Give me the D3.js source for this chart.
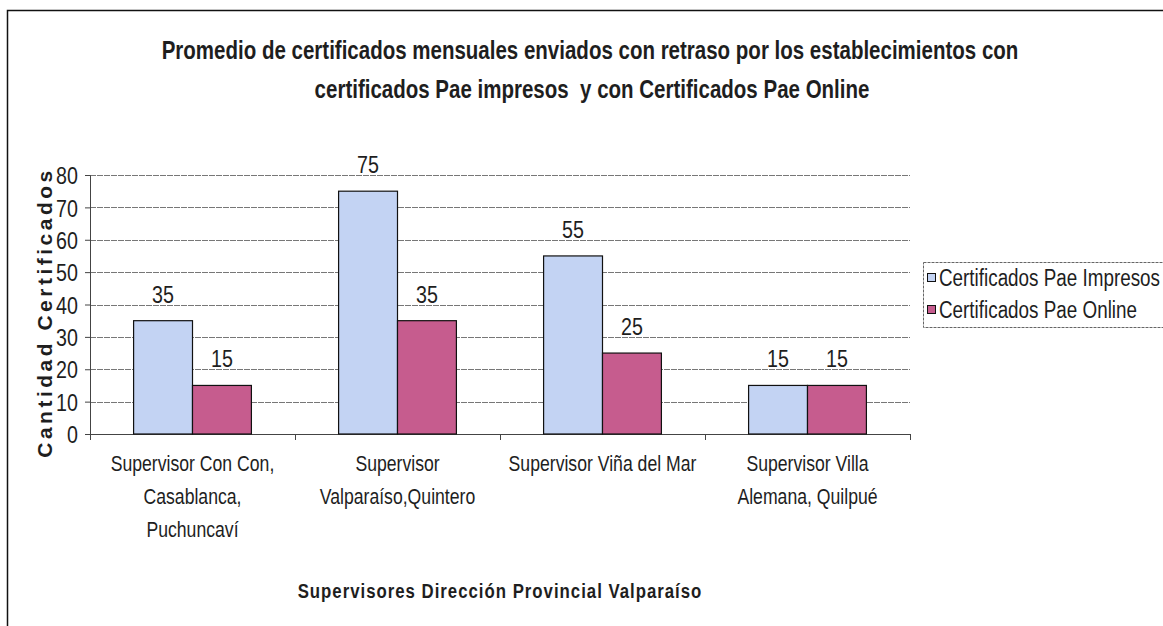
<!DOCTYPE html>
<html>
<head>
<meta charset="utf-8">
<script src="https://cdn.jsdelivr.net/npm/d3@7"></script>
<style>
  body { margin: 0; background: #fff; }
  svg { display: block; font-family: "Liberation Sans", Arial, sans-serif; }
</style>
</head>
<body>
<div id="chart"></div>
<script>
// data
const categories = [
  ["Supervisor Con Con,", "Casablanca,", "Puchuncaví"],
  ["Supervisor", "Valparaíso,Quintero"],
  ["Supervisor Viña del Mar"],
  ["Supervisor Villa", "Alemana, Quilpué"]
];
const seriesNames = ["Certificados Pae Impresos", "Certificados Pae Online"];
const impresos = [35, 75, 55, 15];
const online = [15, 35, 25, 15];
const yTicks = [0, 10, 20, 30, 40, 50, 60, 70, 80];
const colors = ["#c3d3f3", "#c65c8e"];

const width = 1163;
const height = 626;
const plot = { left: 90, right: 910, top: 175, bottom: 434 };
const narrow = 0.82; // squeeze to look like Arial Narrow

const svg = d3.select('#chart')
  .append('svg')
  .attr('width', width)
  .attr('height', height);

// narrow text placed at (x, y)
function addText(parent, x, y, txt, size, anchor, bold) {
  return parent.append('text')
    .attr('transform', `translate(${x},${y}) scale(${narrow},1)`)
    .attr('text-anchor', anchor || 'start')
    .attr('font-size', size + 'px')
    .attr('font-weight', bold ? 'bold' : 'normal')
    .attr('fill', '#1e1e1e')
    .text(txt);
}

// outer frame (runs off the right and bottom edges)
svg.append('rect')
  .attr('x', 7.5)
  .attr('y', 10.5)
  .attr('width', width)
  .attr('height', height)
  .attr('fill', 'none')
  .attr('stroke', '#111')
  .attr('stroke-width', 1.5);

// title
addText(svg, 590, 59, 'Promedio de certificados mensuales enviados con retraso por los establecimientos con', 25, 'middle', true);
addText(svg, 592, 98, 'certificados Pae impresos  y con Certificados Pae Online', 25, 'middle', true)
  .attr('xml:space', 'preserve')
  .style('white-space', 'pre');

const keys = categories.map((d, i) => i);

const x = d3.scaleBand()
  .domain(keys)
  .range([plot.left, plot.right]);

const xSub = d3.scaleBand()
  .domain([0, 1])
  .range([0, x.bandwidth()])
  .paddingOuter(0.74);

const y = d3.scaleLinear()
  .domain([0, 80])
  .range([plot.bottom, plot.top]);

// gridlines
svg.append('g')
  .selectAll('line')
  .data(yTicks.filter(d => d > 0))
  .join('line')
    .attr('x1', plot.left)
    .attr('x2', plot.right)
    .attr('y1', d => Math.round(y(d)) + 0.5)
    .attr('y2', d => Math.round(y(d)) + 0.5)
    .attr('stroke', '#777')
    .attr('stroke-width', 1)
    .attr('stroke-dasharray', '6,1');

// y axis
const yAxis = svg.append('g')
  .attr('transform', `translate(${plot.left},0)`)
  .call(d3.axisLeft(y).tickValues(yTicks).tickSize(5));
yAxis.select('.domain').attr('stroke', '#444');
yAxis.selectAll('.tick line').attr('stroke', '#444');
yAxis.selectAll('.tick text')
  .attr('font-size', '24px')
  .attr('fill', '#1e1e1e')
  .attr('font-family', '"Liberation Sans", Arial, sans-serif')
  .attr('transform', `scale(${narrow},1)`)
  .attr('x', -12 / narrow)
  .attr('dy', '0.36em');

// x axis line with ticks on category boundaries
const xAxisG = svg.append('g');
xAxisG.append('line')
  .attr('x1', plot.left)
  .attr('x2', plot.right)
  .attr('y1', plot.bottom + 0.5)
  .attr('y2', plot.bottom + 0.5)
  .attr('stroke', '#444');
xAxisG.selectAll('.xt')
  .data(keys.concat([keys.length]))
  .join('line')
    .attr('class', 'xt')
    .attr('x1', d => Math.round(plot.left + d * x.step()) + 0.5)
    .attr('x2', d => Math.round(plot.left + d * x.step()) + 0.5)
    .attr('y1', plot.bottom)
    .attr('y2', plot.bottom + 6)
    .attr('stroke', '#444');

// bars
const groups = svg.append('g')
  .selectAll('g')
  .data(keys)
  .join('g')
    .attr('transform', d => `translate(${x(d)},0)`);

const barData = i => [
  { s: 0, v: impresos[i] },
  { s: 1, v: online[i] }
];

groups.selectAll('rect')
  .data(d => barData(d))
  .join('rect')
    .attr('x', d => xSub(d.s))
    .attr('y', d => y(d.v))
    .attr('width', xSub.bandwidth())
    .attr('height', d => y(0) - y(d.v))
    .attr('fill', d => colors[d.s])
    .attr('stroke', '#111')
    .attr('stroke-width', 1.2);

groups.each(function(k) {
  const g = d3.select(this);
  barData(k).forEach(d => {
    addText(g, xSub(d.s) + xSub.bandwidth() / 2, y(d.v) - 18, d.v, 24, 'middle');
  });
});

// category labels
keys.forEach(k => {
  categories[k].forEach((line, j) => {
    addText(svg, x(k) + x.bandwidth() / 2, 471 + j * 33, line, 21.5, 'middle');
  });
});

// axis titles
addText(svg, (plot.left + plot.right) / 2, 598, 'Supervisores Dirección Provincial Valparaíso', 20.5, 'middle', true)
  .attr('letter-spacing', '1.2px');

svg.append('text')
  .attr('transform', `translate(52,${(plot.top + plot.bottom) / 2 + 8}) rotate(-90)`)
  .attr('text-anchor', 'middle')
  .attr('font-weight', 'bold')
  .attr('font-size', '21px')
  .attr('letter-spacing', '3.5px')
  .attr('fill', '#1e1e1e')
  .text('Cantidad Certificados');

// legend
const legend = svg.append('g');
legend.append('rect')
  .attr('x', 923.5)
  .attr('y', 262.5)
  .attr('width', 260)
  .attr('height', 65)
  .attr('fill', '#fff')
  .attr('stroke', '#666')
  .attr('stroke-dasharray', '3,1');

seriesNames.forEach((name, i) => {
  const row = legend.append('g')
    .attr('transform', `translate(927,${286 + i * 32})`);
  row.append('rect')
    .attr('x', 0.5)
    .attr('y', -12.5)
    .attr('width', 8)
    .attr('height', 8)
    .attr('fill', colors[i])
    .attr('stroke', '#111');
  addText(row, 12, 0, name, 23, 'start');
});
</script>
</body>
</html>
